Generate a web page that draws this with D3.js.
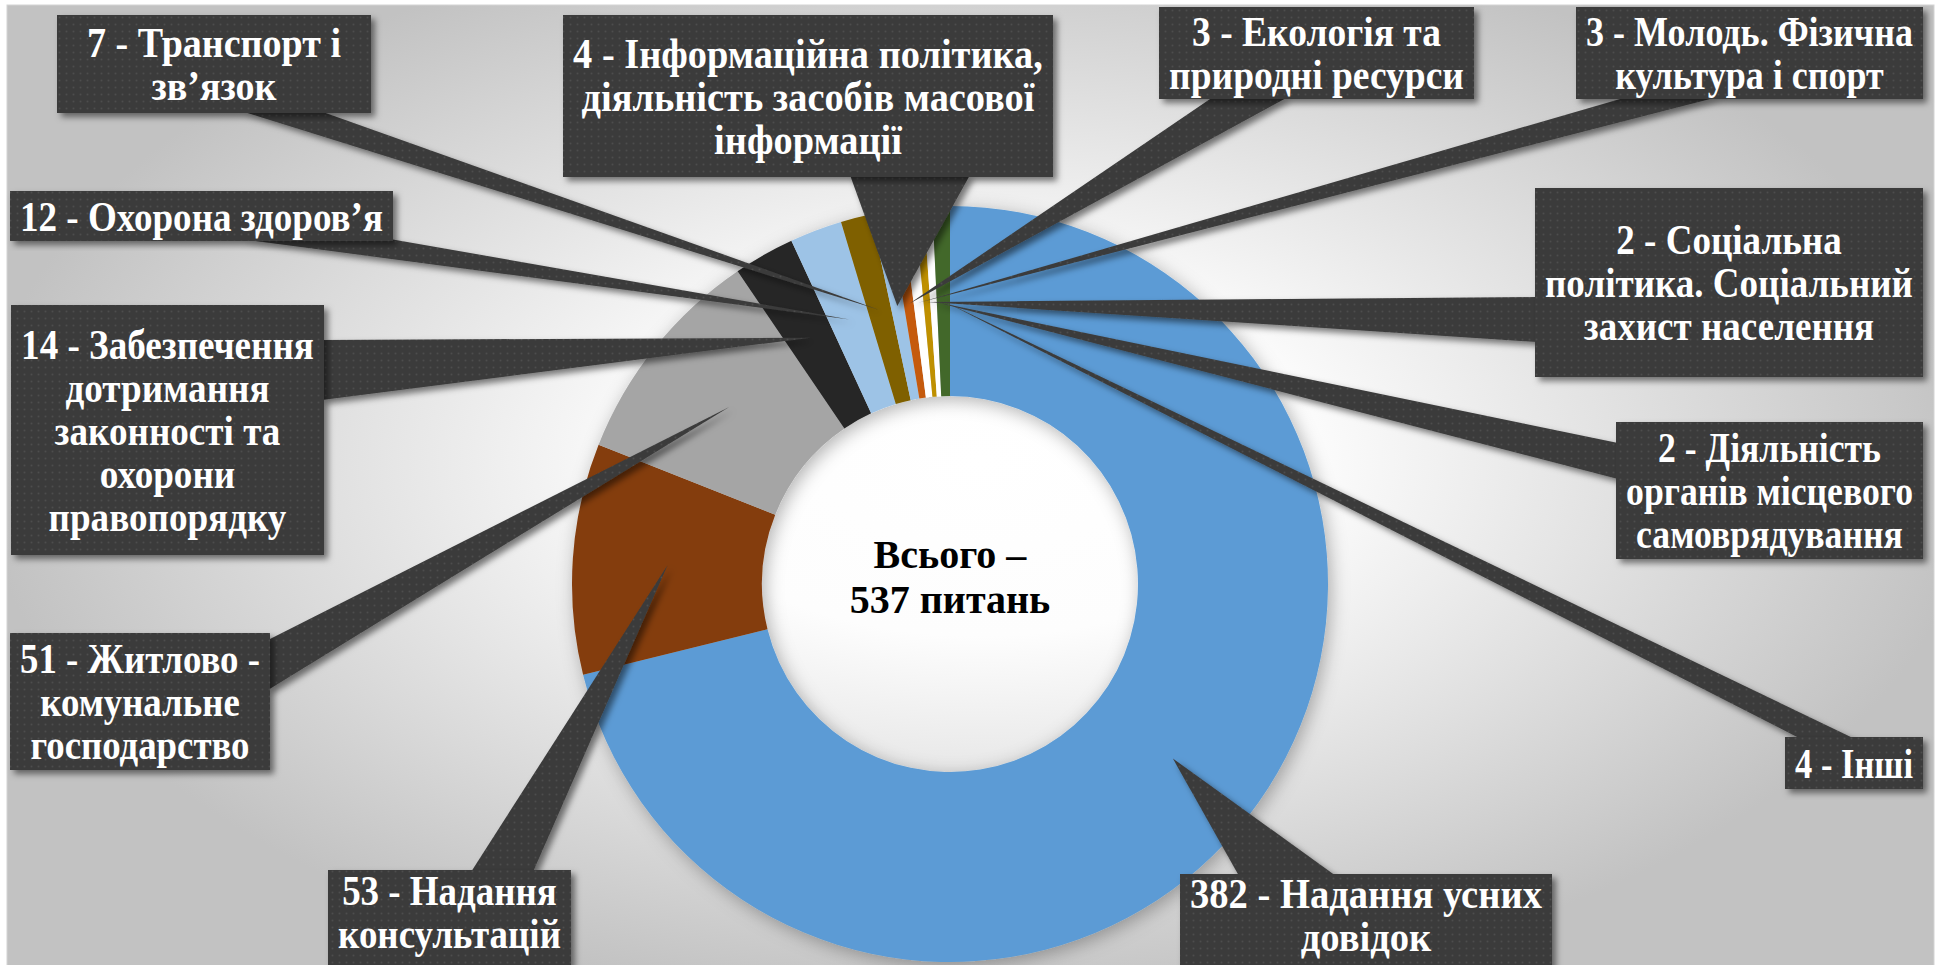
<!DOCTYPE html>
<html lang="uk">
<head>
<meta charset="utf-8">
<script src="https://cdn.jsdelivr.net/npm/d3@7"></script>
<style>
  html, body { margin: 0; padding: 0; background: #fff; }
  svg { display: block; }
</style>
</head>
<body>
<svg id="chart"></svg>
<script>
// Data, clockwise from 12 o'clock
const categories = [
    "Надання  усних довідок",
    "Надання консультацій",
    "Житлово - комунальне господарство",
    "Забезпечення дотримання законності та охорони правопорядку",
    "Охорона здоров’я",
    "Транспорт і зв’язок",
    "Інформаційна політика, діяльність засобів масової інформації",
    "Екологія та природні ресурси",
    "Молодь. Фізична культура і спорт",
    "Соціальна політика. Соціальний захист населення",
    "Діяльність органів місцевого самоврядування",
    "Інші"
];
const values = [382, 53, 51, 14, 12, 7, 4, 3, 3, 2, 2, 4];
const totalWord = "Всього –";
const unitWord = "питань";

const sliceColors = ["#5B9BD5", "#843C0C", "#A5A5A5", "#262626", "#9DC3E6", "#7F6000",
                     "#9DC3E6", "#C55A11", "#FFFFFF", "#BF9000", "#FFFFFF", "#43682B"];

const serif = "'Times New Roman', 'Liberation Serif', 'DejaVu Serif', serif";

/*
 * Dimensions of the page and the ring
 */
const dims = { width: 1943, height: 965, cx: 950, cy: 584, outer: 378, inner: 188 };

/*
 * Where each callout sits: box = [x0, y0, x1, y1], base = the two points on the
 * box side where the pointer wedge starts, breaks = word index of line breaks
 */
const callouts = [
    { box: [1180, 874, 1552, 968], side: "top",    base: [1239, 1336], breaks: [4], shift: -6 },
    { box: [328, 870, 571, 966],   side: "top",    base: [471, 533],   breaks: [3], shift: -6 },
    { box: [10, 633, 270, 770],    side: "right",  base: [640, 690],   breaks: [4, 5] },
    { box: [11, 305, 324, 555],    side: "right",  base: [340, 400],   breaks: [3, 4, 6, 7] },
    { box: [10, 191, 393, 241],    side: "bottom", base: [240, 390],   breaks: [] },
    { box: [57, 15, 371, 113],     side: "bottom", base: [241, 320],   breaks: [4], pad: 30 },
    { box: [563, 15, 1053, 177],   side: "bottom", base: [850, 970],   breaks: [4, 7] },
    { box: [1159, 7, 1474, 99],    side: "bottom", base: [1213, 1288], breaks: [4] },
    { box: [1576, 7, 1923, 99],    side: "bottom", base: [1627, 1718], breaks: [4] },
    { box: [1535, 188, 1923, 377], side: "left",   base: [297, 342],   breaks: [3, 5] },
    { box: [1616, 422, 1923, 559], side: "left",   base: [443, 479],   breaks: [3, 5] },
    { box: [1785, 737, 1923, 789], side: "top",    base: [1801, 1855], breaks: [] }
];

const svg = d3.select("#chart")
    .attr("width", dims.width)
    .attr("height", dims.height);

const defs = svg.append("defs");

// background: white in the middle, grey towards the edges
const bg = defs.append("radialGradient")
    .attr("id", "bg")
    .attr("gradientUnits", "userSpaceOnUse")
    .attr("cx", 980).attr("cy", 460).attr("r", 1000)
    .attr("gradientTransform", "translate(0,207) scale(1,0.55)");
bg.append("stop").attr("offset", 0).attr("stop-color", "#ffffff");
bg.append("stop").attr("offset", 0.32).attr("stop-color", "#fdfdfd");
bg.append("stop").attr("offset", 1).attr("stop-color", "#c2c2c2");

// dark dotted fill of the callouts
const dots = defs.append("pattern")
    .attr("id", "dots")
    .attr("patternUnits", "userSpaceOnUse")
    .attr("width", 7).attr("height", 7);
dots.append("rect").attr("width", 7).attr("height", 7).attr("fill", "#3b3b3b");
dots.append("circle").attr("cx", 3.5).attr("cy", 3.5).attr("r", 1).attr("fill", "#4e4e4e");

defs.append("filter").attr("id", "boxShadow")
    .attr("x", "-20%").attr("y", "-20%").attr("width", "140%").attr("height", "140%")
  .append("feDropShadow")
    .attr("dx", 4).attr("dy", 4).attr("stdDeviation", 3)
    .attr("flood-color", "#000").attr("flood-opacity", 0.5);

defs.append("filter").attr("id", "ringShadow")
    .attr("x", "-20%").attr("y", "-20%").attr("width", "140%").attr("height", "140%")
  .append("feDropShadow")
    .attr("dx", 3).attr("dy", 4).attr("stdDeviation", 9)
    .attr("flood-color", "#000").attr("flood-opacity", 0.3);

// chart area
svg.append("rect")
    .attr("x", 7).attr("y", 5)
    .attr("width", 1927).attr("height", dims.height)
    .attr("fill", "url(#bg)")
    .attr("stroke", "#d4d4d4");

// ring
const pie = d3.pie().sort(null).value(d => d)(values);
const arc = d3.arc().innerRadius(dims.inner).outerRadius(dims.outer);
const color = d3.scaleOrdinal().domain(d3.range(values.length)).range(sliceColors);

const ring = svg.append("g")
    .attr("transform", `translate(${dims.cx},${dims.cy})`)
    .attr("filter", "url(#ringShadow)");

ring.selectAll("path")
    .data(pie)
    .join("path")
    .attr("d", arc)
    .attr("fill", (d, i) => color(i));

// total in the hole
const center = svg.append("text")
    .attr("text-anchor", "middle")
    .style("font-family", serif)
    .style("font-weight", "bold")
    .style("font-size", "40px")
    .attr("fill", "#000");
[totalWord, `${d3.sum(values)} ${unitWord}`].forEach((t, i) => {
    center.append("tspan")
        .attr("x", dims.cx)
        .attr("y", dims.cy - 16 + i * 45)
        .text(t);
});

// pointer wedges: from the box side to the centroid of the slice
function wedgePoints(c, tip) {
    const [x0, y0, x1, y1] = c.box;
    let p1, p2;
    if (c.side === "top")    { p1 = [c.base[0], y0 + 2]; p2 = [c.base[1], y0 + 2]; }
    if (c.side === "bottom") { p1 = [c.base[0], y1 - 2]; p2 = [c.base[1], y1 - 2]; }
    if (c.side === "left")   { p1 = [x0 + 2, c.base[0]]; p2 = [x0 + 2, c.base[1]]; }
    if (c.side === "right")  { p1 = [x1 - 2, c.base[0]]; p2 = [x1 - 2, c.base[1]]; }
    return [p1, tip, p2];
}

const tips = pie.map(d => {
    const [x, y] = arc.centroid(d);
    return [dims.cx + x, dims.cy + y];
});

svg.append("g")
    .attr("filter", "url(#boxShadow)")
    .selectAll("path")
    .data(callouts)
    .join("path")
    .attr("d", (c, i) => d3.line()(wedgePoints(c, tips[i])) + "Z")
    .attr("fill", "url(#dots)");

// callout boxes
const boxes = svg.append("g")
    .selectAll("g")
    .data(callouts)
    .join("g");

boxes.append("rect")
    .attr("x", c => c.box[0])
    .attr("y", c => c.box[1])
    .attr("width", c => c.box[2] - c.box[0])
    .attr("height", c => c.box[3] - c.box[1])
    .attr("fill", "url(#dots)")
    .attr("filter", "url(#boxShadow)");

const fontSize = 42, lineHeight = 43;

boxes.each(function (c, i) {
    const words = `${values[i]} - ${categories[i]}`.split(" ").filter(w => w.length);
    const lines = [];
    let start = 0;
    c.breaks.concat([words.length]).forEach(b => {
        lines.push(words.slice(start, b).join(" "));
        start = b;
    });

    const midX = (c.box[0] + c.box[2]) / 2;
    const midY = (c.box[1] + c.box[3]) / 2 + (c.shift || 0);
    const g = d3.select(this).append("g");
    const text = g.append("text")
        .attr("text-anchor", "middle")
        .attr("fill", "#fff")
        .style("font-family", serif)
        .style("font-weight", "bold")
        .style("font-size", fontSize + "px");
    lines.forEach((l, k) => {
        text.append("tspan")
            .attr("x", 0)
            .attr("y", (k - (lines.length - 1) / 2) * lineHeight)
            .attr("dy", "0.35em")
            .text(l);
    });

    // squeeze the lines into the box, like the original's narrow type
    const widest = d3.max(text.selectAll("tspan").nodes(), n => n.getComputedTextLength());
    const room = (c.box[2] - c.box[0]) - 2 * (c.pad || 10);
    const sx = Math.min(1.05, room / widest);
    g.attr("transform", `translate(${midX},${midY}) scale(${sx},1)`);
});
</script>
</body>
</html>
